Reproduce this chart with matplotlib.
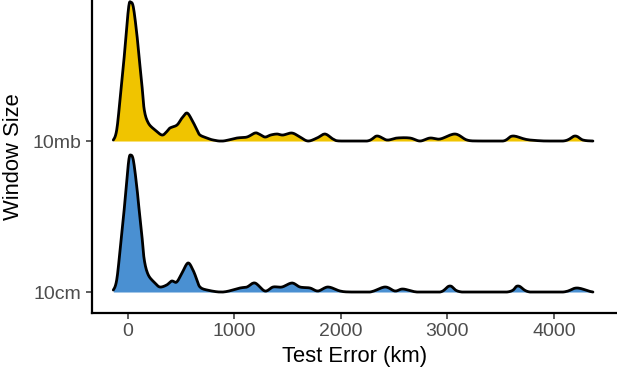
import numpy as np
import matplotlib
matplotlib.use("Agg")
import matplotlib.pyplot as plt

plt.rcParams['font.family'] = ['Liberation Sans', 'DejaVu Sans']

categories = ["10cm", "10mb"]
fill_colors = ["#4A90D2", "#F0C400"]

# density curves: x in km, height in pixels above the ridge baseline
cm_x = [-138, -106, -75, -44, -12, 9, 25, 50, 82, 97, 129, 153, 191, 254, 300, 363, 410, 457,
        507, 563, 610, 648, 676, 742, 892, 1052, 1117, 1192, 1286, 1362, 1446, 1540, 1615, 1709,
        1784, 1878, 1991, 2085, 2272, 2413, 2507, 2582, 2714, 2930, 3024, 3136, 3559, 3662, 3775,
        4085, 4216, 4366]
cm_h = [2, 12, 41, 73, 111, 133, 137, 132, 106, 90, 58, 32, 17, 9, 5, 7, 11, 10,
        19, 29, 22, 12, 5, 2, 0, 4, 5, 9, 1, 5, 5, 9, 5, 4,
        1, 5, 1, 0, 0, 5, 1, 3, 0, 0, 6, 0, 0, 6, 0,
        0, 4, 0]

mb_x = [-138, -106, -75, -44, -12, 9, 25, 50, 82, 97, 129, 153, 191, 254, 319, 360, 394, 460,
        507, 554, 601, 648, 676, 742, 800, 892, 1023, 1117, 1192, 1230, 1286, 1340, 1399, 1455,
        1540, 1615, 1690, 1775, 1850, 1925, 1991, 2244, 2338, 2432, 2526, 2648, 2742, 2836, 2930,
        3071, 3183, 3300, 3521, 3615, 3775, 4085, 4197, 4272, 4366]
mb_h = [1, 11, 41, 74, 114, 136, 139, 134, 108, 91, 58, 31, 18, 11, 6, 9, 13, 16,
        23, 28, 21, 11, 6, 3, 1, 0, 3, 4, 8, 7, 4, 6, 7, 6,
        8, 4, 0, 3, 7, 2, 0, 0, 5, 1, 3, 3, 0, 3, 2,
        7, 1, 0, 0, 5, 1, 0, 5, 1, 0]

x_ticks = [0, 1000, 2000, 3000, 4000]
PX_PER_UNIT = 151.0


def smooth(xs, ys, n=12):
    """Catmull-Rom interpolation through the read points."""
    xs = np.asarray(xs, float)
    ys = np.asarray(ys, float)
    px = np.concatenate([[2 * xs[0] - xs[1]], xs, [2 * xs[-1] - xs[-2]]])
    py = np.concatenate([[ys[0]], ys, [ys[-1]]])
    out_x, out_y = [], []
    t = np.linspace(0, 1, n, endpoint=False)
    for i in range(1, len(px) - 2):
        for arr, out in ((px, out_x), (py, out_y)):
            p0, p1, p2, p3 = arr[i - 1], arr[i], arr[i + 1], arr[i + 2]
            v = 0.5 * ((2 * p1) + (-p0 + p2) * t + (2 * p0 - 5 * p1 + 4 * p2 - p3) * t ** 2
                       + (-p0 + 3 * p1 - 3 * p2 + p3) * t ** 3)
            out.extend(v)
    out_x.append(xs[-1])
    out_y.append(ys[-1])
    return np.array(out_x), np.clip(np.array(out_y), 0, None)


fig = plt.figure(figsize=(6.17, 3.67), dpi=100)
ax = fig.add_axes([92/617, 54/367, 1 - 92/617, 1 - 54/367])

curves = [(cm_x, cm_h), (mb_x, mb_h)]
for i in [1, 0]:
    xs, hs = smooth(*curves[i])
    hs = hs / PX_PER_UNIT
    base = i + 1
    ax.fill_between(xs, base, base + hs, color=fill_colors[i], linewidth=0, zorder=2 + (1 - i) * 2)
    ax.plot(xs, base + hs, color="black", linewidth=2.0, solid_joinstyle="round",
            solid_capstyle="round", zorder=3 + (1 - i) * 2)

ax.set_xlim(-338, 4592)
ax.set_ylim(0.861, 2.934)
ax.set_yticks([1, 2])
ax.set_yticklabels(categories)
ax.set_xticks(x_ticks)
ax.set_xticklabels([str(t) for t in x_ticks])

for s in ["top", "right"]:
    ax.spines[s].set_visible(False)
for s in ["left", "bottom"]:
    ax.spines[s].set_linewidth(1.6)
    ax.spines[s].set_color("black")

ax.tick_params(axis="both", colors="#333333", labelcolor="#4D4D4D", labelsize=14,
               length=4.5, width=1.1)
ax.tick_params(axis="x", pad=3)
ax.tick_params(axis="y", pad=3)

ax.set_xlabel("Test Error (km)", fontsize=15.8, color="black", labelpad=4)
ax.set_ylabel("Window Size", fontsize=15.8, color="black", labelpad=6)

fig.savefig("out.png", dpi=100)
